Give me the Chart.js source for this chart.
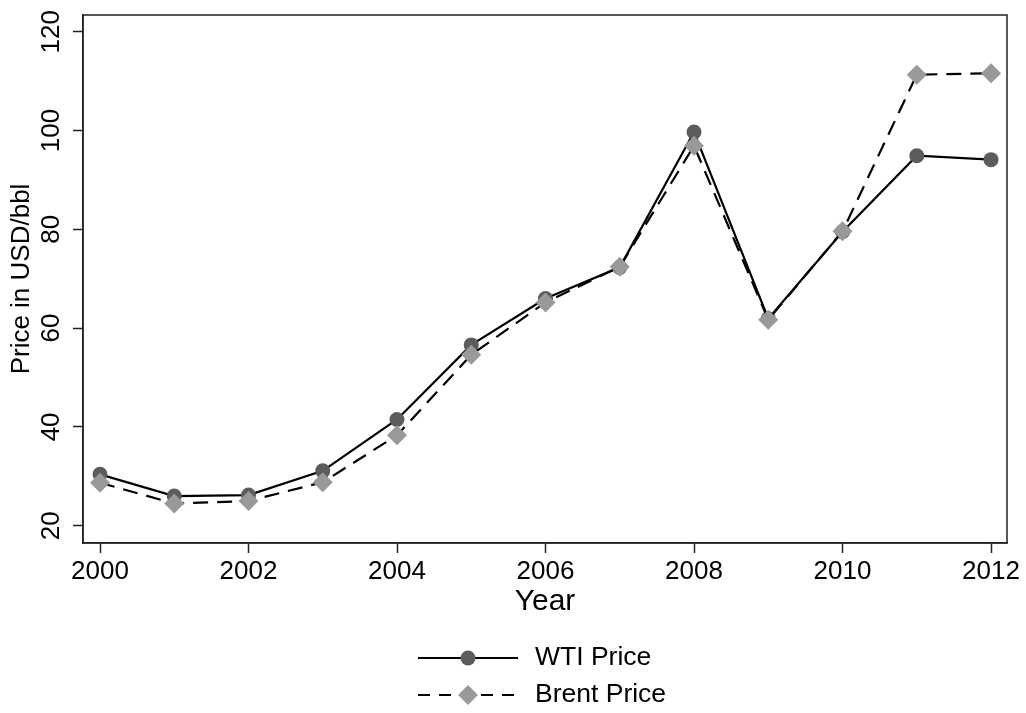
<!DOCTYPE html>
<html>
<head>
<meta charset="utf-8">
<title>WTI vs Brent</title>
<script src="https://cdn.jsdelivr.net/npm/chart.js@4"></script>
<style>
    body { margin: 0; background: #fff; }
    #wrap { width: 1026px; height: 713px; }
</style>
</head>
<body>
<div id="wrap"><canvas id="oil-prices"></canvas></div>
<script>
const years = [2000, 2001, 2002, 2003, 2004, 2005, 2006, 2007, 2008, 2009, 2010, 2011, 2012];
const wtiPrice = [30.4, 26.0, 26.2, 31.1, 41.5, 56.6, 66.0, 72.3, 99.7, 61.9, 79.5, 94.9, 94.1];
const brentPrice = [28.7, 24.5, 25.0, 28.8, 38.3, 54.6, 65.2, 72.4, 96.9, 61.7, 79.6, 111.3, 111.6];
const xTicks = [2000, 2002, 2004, 2006, 2008, 2010, 2012];
const yTicks = [20, 40, 60, 80, 100, 120];

const FONT = "'Liberation Sans', Arial, Helvetica, sans-serif";
const AXIS_COLOR = '#222';

// Stata style: full frame around the plot region
const framePlugin = {
    id: 'frame',
    beforeDatasetsDraw(chart) {
        const { ctx, chartArea } = chart;
        ctx.save();
        ctx.strokeStyle = AXIS_COLOR;
        ctx.lineWidth = 1.5;
        ctx.strokeRect(chartArea.left, chartArea.top, chartArea.right - chartArea.left, chartArea.bottom - chartArea.top);
        ctx.restore();
    }
};

// legend with line sample + marker, stacked vertically below the axis title
const stackedLegend = {
    id: 'stackedLegend',
    afterDraw(chart) {
        const ctx = chart.ctx;
        const rows = [658, 695];
        const lineLeft = 418, lineRight = 518, textX = 535;
        chart.data.datasets.forEach((ds, i) => {
            const y = rows[i];
            const mid = (lineLeft + lineRight) / 2;
            ctx.save();
            ctx.strokeStyle = ds.borderColor;
            ctx.lineWidth = ds.borderWidth;
            ctx.setLineDash(ds.borderDash ? [12, 9] : []);
            ctx.beginPath();
            ctx.moveTo(lineLeft, y);
            ctx.lineTo(lineRight, y);
            ctx.stroke();
            ctx.setLineDash([]);
            ctx.fillStyle = ds.pointBackgroundColor;
            ctx.beginPath();
            if (ds.pointStyle === 'rectRot') {
                const r = ds.pointRadius;
                ctx.moveTo(mid, y - r);
                ctx.lineTo(mid + r, y);
                ctx.lineTo(mid, y + r);
                ctx.lineTo(mid - r, y);
                ctx.closePath();
            } else {
                ctx.arc(mid, y, ds.pointRadius, 0, Math.PI * 2);
            }
            ctx.fill();
            ctx.fillStyle = '#000';
            ctx.font = `26.5px ${FONT}`;
            ctx.textAlign = 'left';
            ctx.textBaseline = 'middle';
            ctx.fillText(ds.label, textX, y);
            ctx.restore();
        });
    }
};

function renderOilChart(canvasId) {
    const canvas = document.querySelector(`#${canvasId}`);
    if (!canvas) {
        throw new Error('Canvas element not found');
    }

    new Chart(canvas, {
        type: 'line',
        data: {
            datasets: [{
                label: 'WTI Price',
                data: years.map((yr, i) => ({ x: yr, y: wtiPrice[i] })),
                borderColor: '#000',
                borderWidth: 2.2,
                pointStyle: 'circle',
                pointRadius: 7.5,
                pointBackgroundColor: '#5c5c5c',
                pointBorderWidth: 0,
                tension: 0,
                order: 1
            }, {
                label: 'Brent Price',
                data: years.map((yr, i) => ({ x: yr, y: brentPrice[i] })),
                borderColor: '#000',
                borderWidth: 2.2,
                borderDash: [15, 9],
                pointStyle: 'rectRot',
                pointRadius: 10,
                pointBackgroundColor: '#999999',
                pointBorderWidth: 0,
                tension: 0,
                order: 0
            }]
        },
        options: {
            responsive: true,
            maintainAspectRatio: false,
            animation: false,
            layout: {
                padding: { top: 15, right: 19, bottom: 90, left: 0 }
            },
            scales: {
                x: {
                    type: 'linear',
                    min: 1999.771,
                    max: 2012.215,
                    afterBuildTicks: (scale) => { scale.ticks = xTicks.map(v => ({ value: v })); },
                    afterFit: (scale) => { scale.height = 80; },
                    border: { display: true, color: AXIS_COLOR, width: 1.5 },
                    grid: { display: true, drawOnChartArea: false, drawTicks: true, tickLength: 10, color: AXIS_COLOR, tickWidth: 1.5 },
                    ticks: {
                        padding: 3,
                        color: '#000',
                        font: { family: FONT, size: 26 },
                        maxRotation: 0,
                        callback: (value) => String(value)
                    },
                    title: {
                        display: true,
                        text: 'Year',
                        color: '#000',
                        font: { family: FONT, size: 30 },
                        padding: { top: 0, bottom: 3 }
                    }
                },
                y: {
                    min: 16.5,
                    max: 123.38,
                    afterBuildTicks: (scale) => { scale.ticks = yTicks.map(v => ({ value: v })); },
                    afterFit: (scale) => { scale.width = 83; },
                    border: { display: true, color: AXIS_COLOR, width: 1.5 },
                    grid: { display: true, drawOnChartArea: false, drawTicks: true, tickLength: 10, color: AXIS_COLOR, tickWidth: 1.5 },
                    ticks: {
                        padding: -1,
                        minRotation: 90,
                        maxRotation: 90,
                        crossAlign: 'center',
                        color: '#000',
                        font: { family: FONT, size: 26 },
                        callback: (value) => String(value)
                    },
                    title: {
                        display: true,
                        text: 'Price in USD/bbl',
                        color: '#000',
                        font: { family: FONT, size: 26 },
                        padding: { top: 6, bottom: 0 }
                    }
                }
            },
            plugins: {
                legend: { display: false },
                tooltip: { enabled: false }
            }
        },
        plugins: [framePlugin, stackedLegend]
    });
}

renderOilChart('oil-prices');
</script>
</body>
</html>
